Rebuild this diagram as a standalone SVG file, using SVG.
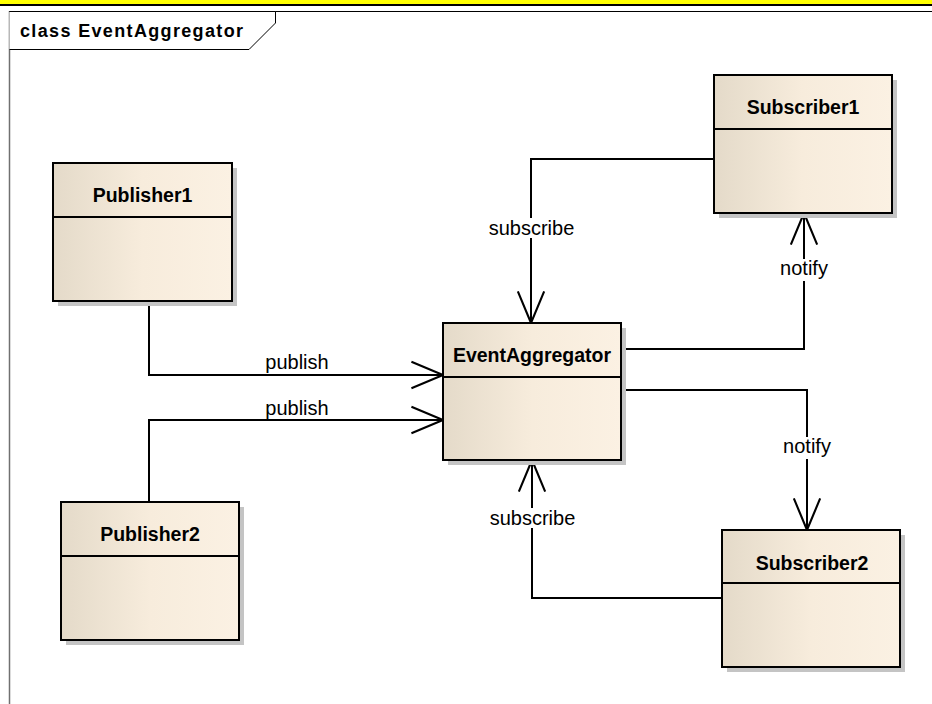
<svg xmlns="http://www.w3.org/2000/svg" width="932" height="704" viewBox="0 0 932 704">
<style>
.box{stroke:#000;stroke-width:2;fill:url(#g)}
.shadow{fill:#c4c4c4}
.div{stroke:#000;stroke-width:2}
.title{font-family:"Liberation Sans",Arial,sans-serif;font-weight:bold;font-size:19.5px;fill:#000;text-anchor:middle}
.lbl{font-family:"Liberation Sans",Arial,sans-serif;font-size:20px;fill:#000;text-anchor:middle}
.conn{fill:none;stroke:#000;stroke-width:2}
.bg{fill:#fff}
</style>
<defs>
<linearGradient id="g" x1="0" y1="0" x2="1" y2="0">
<stop offset="0" stop-color="#e4dac9"/>
<stop offset="0.5" stop-color="#f7ecdc"/>
<stop offset="1" stop-color="#fbf1e3"/>
</linearGradient>
<marker id="arr" markerUnits="userSpaceOnUse" markerWidth="40" markerHeight="40" viewBox="-34 -16 38 32" refX="0" refY="0" orient="auto">
<path d="M-30,-12.5 L0,0 L-30,12.5" fill="none" stroke="#000" stroke-width="2"/>
</marker>
</defs>
<rect width="932" height="704" fill="#fff"/>
<rect x="0" y="0" width="932" height="4" fill="#ffff00"/>
<rect x="0" y="4" width="932" height="2" fill="#000"/>
<g id="frame">
<line x1="9.5" y1="11" x2="9.5" y2="704" stroke="#707070" stroke-width="1.5"/>
<line x1="9" y1="11.5" x2="932" y2="11.5" stroke="#000" stroke-width="1"/>
<path d="M9.5,11.5 H275.5 V23 L249,49.5 H9.5" fill="#fff" stroke="#000" stroke-width="1"/>
<text x="20" y="37" font-family="'Liberation Sans',Arial,sans-serif" font-weight="bold" font-size="18" textLength="223" lengthAdjust="spacing">class EventAggregator</text>
</g>
<g id="connectors">
<path class="conn" d="M149,301 V375 H443" marker-end="url(#arr)"/>
<text class="lbl" x="297" y="369">publish</text>
<path class="conn" d="M149,502 V420 H443" marker-end="url(#arr)"/>
<text class="lbl" x="297" y="415">publish</text>
<path class="conn" d="M714,159 H531 V323" marker-end="url(#arr)"/>
<rect class="bg" x="487" y="218" width="90" height="20"/>
<text class="lbl" x="531.5" y="235">subscribe</text>
<path class="conn" d="M621,349 H804 V213" marker-end="url(#arr)"/>
<rect class="bg" x="777" y="259" width="56" height="22"/>
<text class="lbl" x="804" y="275">notify</text>
<path class="conn" d="M621,390 H807 V530" marker-end="url(#arr)"/>
<rect class="bg" x="780" y="437" width="56" height="22"/>
<text class="lbl" x="807" y="453">notify</text>
<path class="conn" d="M722,598 H532 V460" marker-end="url(#arr)"/>
<rect class="bg" x="488" y="508" width="90" height="20"/>
<text class="lbl" x="532.5" y="525">subscribe</text>
</g>
<g id="Publisher1">
<rect class="shadow" x="58" y="168" width="179" height="138"/>
<rect class="box" x="53" y="163" width="179" height="138"/>
<line class="div" x1="53" y1="217" x2="232" y2="217"/>
<text class="title" x="142.5" y="202">Publisher1</text>
</g>
<g id="Publisher2">
<rect class="shadow" x="66" y="507" width="178" height="138"/>
<rect class="box" x="61" y="502" width="178" height="138"/>
<line class="div" x1="61" y1="556" x2="239" y2="556"/>
<text class="title" x="150" y="541">Publisher2</text>
</g>
<g id="EventAggregator">
<rect class="shadow" x="448" y="328" width="178" height="137"/>
<rect class="box" x="443" y="323" width="178" height="137"/>
<line class="div" x1="443" y1="377" x2="621" y2="377"/>
<text class="title" x="532" y="362">EventAggregator</text>
</g>
<g id="Subscriber1">
<rect class="shadow" x="719" y="80" width="178" height="138"/>
<rect class="box" x="714" y="75" width="178" height="138"/>
<line class="div" x1="714" y1="129" x2="892" y2="129"/>
<text class="title" x="803" y="114">Subscriber1</text>
</g>
<g id="Subscriber2">
<rect class="shadow" x="727" y="535" width="178" height="137"/>
<rect class="box" x="722" y="530" width="178" height="137"/>
<line class="div" x1="722" y1="583" x2="900" y2="583"/>
<text class="title" x="812" y="570">Subscriber2</text>
</g>
</svg>
